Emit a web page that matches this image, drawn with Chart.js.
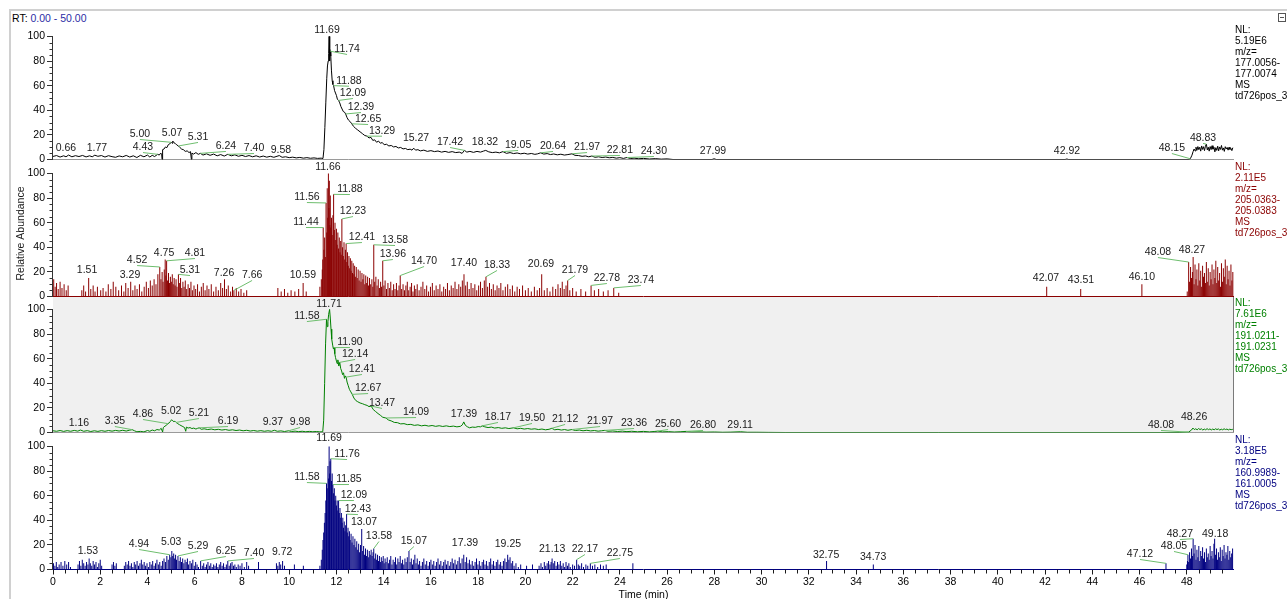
<!DOCTYPE html>
<html>
<head>
<meta charset="utf-8">
<title>Extracted ion chromatograms</title>
<script src="https://cdn.jsdelivr.net/npm/chart.js@4.4.1/dist/chart.umd.min.js"></script>
<style>
  html, body { margin: 0; padding: 0; background: #fff; }
  #wrap { position: relative; width: 1287px; height: 599px; overflow: hidden;
          font-family: "Liberation Sans", Arial, sans-serif; background: #fff; }
  #wrap canvas { position: absolute; left: 0; top: 0; }
  #frameTop { position: absolute; left: 9px; top: 9px; width: 1278px; height: 2px; background: #d0d0d0; }
  #frameLeft { position: absolute; left: 9px; top: 9px; width: 2px; height: 590px; background: #d0d0d0; }
  #rt { position: absolute; left: 12px; top: 12px; font-size: 10.5px; line-height: 12px; color: #000; white-space: nowrap; }
  #rt span { color: #2b2ba5; }
  #icon { position: absolute; left: 1278px; top: 13px; width: 6px; height: 7px; border: 1px solid #555; }
  #icon::after { content: ""; position: absolute; left: 1px; top: 3px; width: 4px; height: 1px; background: #555; }
</style>
</head>
<body>
<div id="wrap">
  <div id="frameTop"></div>
  <div id="frameLeft"></div>
  <div id="rt">RT: <span>0.00 - 50.00</span></div>
  <div id="icon"></div>
  <canvas id="c1" width="1287" height="610"></canvas>
  <canvas id="c2" width="1287" height="610"></canvas>
  <canvas id="c3" width="1287" height="610"></canvas>
  <canvas id="c4" width="1287" height="610"></canvas>
</div>
<script>
// ---- axis ranges and tick labels ----
const timeRange = [0, 50];
const yTicks = [0, 20, 40, 60, 80, 100];
const xTicks = [0, 2, 4, 6, 8, 10, 12, 14, 16, 18, 20, 22, 24, 26, 28, 30, 32, 34, 36, 38, 40, 42, 44, 46, 48];

// ---- m/z 177.0056-177.0074 : [time (min), relative abundance] ----
const trace177 = [
 [0.00,2.5],[0.15,3.2],[0.30,2.0],[0.45,3.0],[0.55,2.2],[0.66,3.6],[0.80,2.2],[0.95,3.1],[1.10,2.4],[1.25,3.3],
 [1.40,2.1],[1.55,3.0],[1.66,2.2],[1.77,3.5],[1.90,2.6],[2.05,3.2],[2.20,2.0],[2.35,3.1],[2.50,2.3],[2.65,1.8],
 [2.80,2.9],[2.95,2.2],[3.10,3.3],[3.25,2.0],[3.40,3.0],[3.55,1.6],[3.70,3.4],[3.85,2.2],[4.00,3.6],[4.10,2.0],
 [4.20,3.4],[4.30,2.4],[4.43,4.2],[4.50,3.6],[4.56,5.2],[4.60,4.4],[4.62,0],[4.64,8.0],[4.70,8.5],[4.76,10.2],
 [4.82,9.6],[4.88,12.0],[4.94,12.6],[5.00,14.0],[5.04,13.2],[5.07,15.0],[5.12,13.6],[5.18,13.0],[5.24,11.8],[5.31,11.0],
 [5.38,9.6],[5.45,8.4],[5.52,8.0],[5.60,6.6],[5.68,7.0],[5.76,5.6],[5.82,6.4],[5.86,0],[5.88,5.2],[5.95,4.4],
 [6.05,5.6],[6.15,4.2],[6.24,5.0],[6.35,3.6],[6.50,4.6],[6.65,3.4],[6.80,4.4],[6.95,3.0],[7.10,4.0],[7.25,2.8],
 [7.40,4.2],[7.55,3.0],[7.70,3.8],[7.85,2.6],[8.00,3.4],[8.15,2.4],[8.30,3.2],[8.45,2.2],[8.60,3.0],[8.75,2.0],
 [8.90,2.8],[9.05,1.9],[9.20,2.6],[9.35,1.8],[9.58,3.2],[9.70,1.8],[9.85,2.2],[10.00,1.5],[10.15,1.9],[10.30,1.3],
 [10.45,1.7],[10.60,1.1],[10.75,1.5],[10.90,1.0],[11.05,1.3],[11.20,0.9],[11.35,1.1],[11.43,0.8],
 [11.47,8],[11.51,26],[11.55,46],[11.59,66],[11.62,76],[11.65,80],[11.67,86],[11.69,100],[11.71,80],[11.72,90],
 [11.74,88],[11.76,84],[11.79,72],[11.82,64],[11.85,61],[11.88,60],[11.92,56],[11.96,54],[12.00,52],[12.04,49],
 [12.09,48],[12.14,46],[12.19,43],[12.24,41],[12.29,39],[12.34,38.5],[12.39,37],[12.45,34],[12.51,32],[12.57,31],
 [12.65,29],[12.72,27],[12.80,25.5],[12.90,24],[13.00,22.5],[13.10,21],[13.20,19.5],[13.29,19],[13.38,17.5],[13.46,18],
 [13.54,15.5],[13.62,16],[13.70,14],[13.78,15],[13.86,13.2],[13.94,13.8],[14.02,12],[14.12,12.4],[14.22,11],[14.32,11.4],
 [14.42,10.2],[14.52,10.6],[14.62,9.4],[14.72,9.8],[14.82,8.6],[14.92,9.0],[15.02,8.0],[15.12,8.4],[15.20,7.6],[15.27,9.2],
 [15.35,7.6],[15.45,8.0],[15.55,7.0],[15.70,7.6],[15.85,6.6],[16.00,7.2],[16.15,6.4],[16.30,6.9],[16.45,6.0],[16.60,6.6],
 [16.75,5.8],[16.90,6.4],[17.05,5.6],[17.20,6.0],[17.32,5.0],[17.42,7.4],[17.52,6.0],[17.65,6.6],[17.80,5.8],[17.95,6.6],
 [18.10,6.0],[18.22,6.8],[18.32,7.4],[18.45,6.2],[18.60,5.6],[18.75,6.0],[18.90,5.4],[19.05,6.4],[19.20,5.0],[19.35,5.6],
 [19.50,4.8],[19.65,5.3],[19.80,4.6],[19.95,5.1],[20.10,4.4],[20.25,4.9],[20.40,4.2],[20.52,4.6],[20.64,5.4],[20.78,4.4],
 [20.92,4.8],[21.06,4.0],[21.20,4.5],[21.35,3.8],[21.50,4.3],[21.65,3.6],[21.80,4.0],[21.97,4.6],[22.10,3.4],[22.25,3.2],
 [22.40,2.6],[22.55,2.9],[22.68,2.2],[22.81,2.8],[22.95,1.8],[23.10,2.2],[23.25,1.6],[23.40,2.0],[23.55,1.4],[23.70,1.7],
 [23.85,1.1],[24.00,1.5],[24.15,0.9],[24.30,1.6],[24.45,0.8],[24.60,1.1],[24.80,0.6],[25.00,0.9],[25.25,0.4],[25.50,0.7],
 [25.75,0.3],[26.00,0.5],[26.25,0],[27.90,0],[27.99,0.6],[28.08,0],[42.85,0],[42.92,0.4],[43.00,0],[48.08,0],
 [48.15,0.6],[48.22,3.5],[48.27,6.5],[48.31,8.5],[48.35,7],[48.39,10],[48.43,7.5],[48.47,10.5],[48.51,8],[48.55,10],
 [48.59,6.8],[48.63,11],[48.67,8.2],[48.71,10.4],[48.75,7.2],[48.79,10.8],[48.83,12.5],[48.87,7.8],[48.91,10],[48.95,6.8],
 [48.99,10.5],[49.03,8],[49.07,11.2],[49.11,8.4],[49.15,10],[49.19,6.2],[49.23,9.6],[49.27,7.4],[49.31,10.8],[49.35,7],
 [49.39,10.2],[49.43,8.2],[49.47,11.4],[49.51,7.6],[49.55,9.4],[49.59,6.6],[49.63,10.4],[49.67,8.6],[49.71,9.8],[49.75,7.6],
 [49.79,10],[49.83,8.2],[49.87,9],[49.91,7.2],[49.95,9.6]
];

// ---- m/z 205.0363-205.0383 : scan sticks [time, relative abundance] ----
const sticks205 = [
 [0.03,14],[0.09,8],[0.15,11],[0.22,6],[0.30,12],[0.38,7],[0.47,10],[0.56,5],[0.64,9],[1.22,5],
 [1.30,9],[1.38,4],[1.51,15],[1.60,6],[1.70,9],[1.78,4],[1.88,8],[2.02,5],[2.12,7],[2.24,4],
 [2.34,10],[2.45,6],[2.55,12],[2.66,8],[2.78,5],[2.90,9],[3.00,4],[3.08,11],[3.18,7],[3.29,12],
 [3.38,5],[3.47,9],[3.56,6],[3.66,10],[3.76,4],[3.86,8],[3.95,12],[4.04,7],[4.12,13],[4.20,9],
 [4.28,14],[4.36,10],[4.44,18],[4.52,24],[4.57,14],[4.62,20],[4.66,12],[4.71,22],[4.75,30],[4.78,17],
 [4.81,29],[4.85,13],[4.89,19],[4.93,11],[4.97,16],[5.01,12],[5.05,18],[5.09,10],[5.13,15],[5.17,9],
 [5.21,14],[5.25,8],[5.31,18],[5.35,11],[5.40,15],[5.45,7],[5.50,12],[5.55,8],[5.60,13],[5.66,6],
 [5.72,10],[5.78,7],[5.84,12],[5.90,5],[5.97,9],[6.04,6],[6.12,10],[6.20,4],[6.28,8],[6.36,11],
 [6.44,5],[6.52,9],[6.60,6],[6.70,10],[6.80,4],[6.90,8],[7.00,5],[7.10,11],[7.18,7],[7.26,14],
 [7.34,6],[7.42,9],[7.52,4],[7.60,8],[7.66,5],[7.76,7],[7.86,4],[7.96,6],[8.08,3],[8.20,5],
 [9.52,7],[9.66,4],[9.80,6],[9.94,3],[10.08,5],[10.24,4],[10.40,6],[10.59,11],[10.72,4],[11.30,8],
 [11.36,14],[11.40,22],[11.42,30],[11.44,56],[11.47,38],[11.50,48],[11.53,32],[11.56,76],[11.59,52],[11.61,88],
 [11.63,64],[11.66,100],[11.68,72],[11.70,94],[11.72,58],[11.74,82],[11.76,56],[11.79,64],[11.82,50],[11.85,66],
 [11.88,83],[11.91,54],[11.94,60],[11.97,46],[12.00,55],[12.03,42],[12.06,52],[12.09,39],[12.12,48],[12.15,36],
 [12.18,45],[12.20,34],[12.23,63],[12.26,40],[12.29,33],[12.32,44],[12.35,30],[12.38,38],[12.41,43],[12.44,28],
 [12.47,36],[12.50,25],[12.53,33],[12.56,23],[12.59,31],[12.62,21],[12.65,29],[12.68,19],[12.71,27],[12.74,18],
 [12.77,25],[12.80,16],[12.84,24],[12.88,15],[12.92,22],[12.96,13],[13.00,21],[13.04,12],[13.08,19],[13.12,14],
 [13.16,18],[13.20,10],[13.24,17],[13.28,11],[13.32,16],[13.36,9],[13.40,15],[13.45,10],[13.50,14],[13.54,8],
 [13.58,42],[13.62,12],[13.67,16],[13.72,9],[13.77,14],[13.82,7],[13.87,12],[13.91,8],[13.96,29],[14.01,9],
 [14.06,13],[14.12,6],[14.18,11],[14.24,7],[14.30,12],[14.36,5],[14.42,10],[14.48,6],[14.54,11],[14.60,5],
 [14.65,9],[14.70,17],[14.76,6],[14.82,10],[14.88,5],[14.94,9],[15.00,12],[15.06,5],[15.12,8],[15.18,11],
 [15.24,4],[15.30,9],[15.36,6],[15.42,10],[15.50,5],[15.58,8],[15.66,12],[15.74,6],[15.82,9],[15.90,4],
 [15.98,8],[16.06,11],[16.14,5],[16.22,9],[16.30,6],[16.38,10],[16.46,4],[16.54,8],[16.62,6],[16.70,11],
 [16.78,5],[16.86,9],[16.94,7],[17.02,12],[17.10,6],[17.18,10],[17.26,8],[17.33,13],[17.40,18],[17.47,9],
 [17.54,12],[17.62,6],[17.70,11],[17.78,7],[17.86,10],[17.94,5],[18.02,9],[18.10,12],[18.18,7],[18.26,13],
 [18.33,16],[18.40,8],[18.48,11],[18.56,6],[18.64,10],[18.72,5],[18.80,9],[18.88,7],[18.96,11],[19.05,5],
 [19.15,8],[19.25,10],[19.35,6],[19.45,9],[19.55,4],[19.65,8],[19.75,6],[19.88,9],[20.00,5],[20.12,7],
 [20.25,4],[20.38,8],[20.50,5],[20.60,7],[20.69,18],[20.80,5],[20.92,7],[21.04,4],[21.16,8],[21.28,6],
 [21.38,10],[21.48,7],[21.56,12],[21.64,6],[21.72,9],[21.79,13],[21.88,5],[22.00,7],[22.15,4],[22.35,6],
 [22.55,4],[22.78,9],[22.92,5],[23.10,6],[23.30,4],[23.50,5],[23.74,7],[23.95,3],[42.07,8],[43.51,6],
 [46.10,10],[48.02,4],[48.08,28],[48.12,12],[48.16,24],[48.20,15],[48.24,20],[48.27,32],[48.31,10],[48.35,26],
 [48.39,14],[48.43,22],[48.47,9],[48.51,27],[48.55,13],[48.59,21],[48.63,8],[48.67,25],[48.71,16],[48.75,19],
 [48.79,11],[48.83,28],[48.87,12],[48.91,23],[48.95,9],[48.99,20],[49.03,14],[49.07,26],[49.11,10],[49.15,22],
 [49.19,15],[49.23,29],[49.27,11],[49.31,24],[49.35,13],[49.39,19],[49.43,8],[49.47,27],[49.51,12],[49.55,23],
 [49.59,16],[49.63,30],[49.67,10],[49.71,25],[49.75,14],[49.79,21],[49.83,9],[49.87,26],[49.91,13],[49.95,20]
];

// ---- m/z 191.0211-191.0231 : [time, relative abundance] ----
const trace191 = [
 [0.00,1.4],[0.15,1.0],[0.30,1.6],[0.45,0.9],[0.60,1.5],[0.75,1.0],[0.90,1.7],[1.05,1.1],[1.16,2.0],[1.30,1.0],
 [1.45,1.5],[1.60,0.8],[1.75,1.4],[1.90,0.9],[2.05,1.5],[2.20,1.0],[2.35,1.6],[2.50,1.1],[2.65,1.7],[2.80,1.2],
 [2.95,1.8],[3.10,1.2],[3.25,1.9],[3.35,2.3],[3.45,1.4],[3.55,0.6],[3.70,0.9],[3.85,0.5],[4.00,1.6],[4.10,1.0],
 [4.20,2.0],[4.30,1.4],[4.40,2.4],[4.50,2.0],[4.58,3.4],[4.64,0.4],[4.67,4.0],[4.74,5.2],[4.80,5.8],[4.86,7.2],
 [4.92,7.8],[4.97,9.0],[5.02,10.4],[5.07,9.4],[5.12,8.8],[5.16,9.2],[5.21,8.2],[5.28,7.2],[5.35,6.4],[5.42,5.6],
 [5.50,4.8],[5.57,4.0],[5.62,1.0],[5.65,4.4],[5.72,3.6],[5.80,4.0],[5.88,3.2],[5.96,3.6],[6.05,2.8],[6.12,3.4],
 [6.19,3.8],[6.28,2.6],[6.40,3.0],[6.55,2.4],[6.70,2.8],[6.85,2.2],[7.00,2.6],[7.15,2.0],[7.30,2.4],[7.45,1.8],
 [7.60,2.2],[7.75,1.6],[7.90,2.0],[8.05,1.4],[8.20,1.8],[8.35,1.2],[8.50,1.6],[8.65,1.1],[8.80,1.5],[8.95,1.0],
 [9.10,1.4],[9.25,1.0],[9.37,1.8],[9.50,1.0],[9.65,1.3],[9.80,0.8],[9.98,1.4],[10.10,0.8],[10.25,1.1],[10.40,0.7],
 [10.55,1.0],[10.70,0.6],[10.85,0.9],[11.00,0.6],[11.15,0.8],[11.30,0.5],[11.42,0.6],
 [11.46,10],[11.50,40],[11.54,72],[11.58,92],[11.61,86],[11.64,90],[11.67,96],[11.71,100],[11.74,93],[11.77,84],
 [11.80,76],[11.84,71],[11.87,68],[11.90,69],[11.93,64],[11.96,61],[12.00,58],[12.03,56],[12.06,59],[12.10,54],
 [12.14,57],[12.18,52],[12.22,50],[12.26,47],[12.30,48.5],[12.34,44],[12.37,46],[12.41,45],[12.45,41],[12.50,38],
 [12.55,35],[12.61,33],[12.67,31],[12.74,28],[12.82,26],[12.90,25],[13.00,24],[13.10,23.4],[13.20,22.6],[13.30,22],
 [13.38,21],[13.47,21.5],[13.56,18.6],[13.66,17],[13.76,15.4],[13.86,14],[13.96,12.4],[14.09,11.8],[14.20,10.2],[14.32,9.4],
 [14.45,8.2],[14.58,8.0],[14.72,7.0],[14.86,7.2],[15.00,6.4],[15.15,6.6],[15.30,5.8],[15.45,6.2],[15.60,5.4],[15.75,5.9],
 [15.90,5.2],[16.05,5.7],[16.20,5.0],[16.35,5.5],[16.50,4.9],[16.65,5.4],[16.80,4.8],[16.95,5.2],[17.10,4.6],[17.25,5.0],
 [17.33,6.2],[17.39,8.6],[17.46,5.8],[17.55,4.6],[17.64,3.8],[17.75,4.4],[17.88,4.2],[18.00,4.8],[18.10,4.6],[18.17,5.4],
 [18.28,4.6],[18.42,4.0],[18.56,4.4],[18.70,3.6],[18.85,4.0],[19.00,3.4],[19.15,3.8],[19.30,3.2],[19.50,3.8],[19.65,3.0],
 [19.80,3.4],[19.95,2.8],[20.10,3.2],[20.25,2.7],[20.40,3.0],[20.55,2.4],[20.70,2.8],[20.85,2.2],[21.00,2.6],[21.12,3.4],
 [21.24,2.2],[21.38,2.6],[21.52,2.0],[21.66,2.4],[21.80,1.8],[21.97,2.4],[22.12,1.6],[22.28,2.0],[22.44,1.4],[22.60,1.8],
 [22.76,1.3],[22.92,1.6],[23.08,1.1],[23.22,1.4],[23.36,1.7],[23.50,1.0],[23.70,1.2],[23.90,0.8],[24.10,1.1],[24.30,0.7],
 [24.50,1.0],[24.75,0.6],[25.00,0.9],[25.25,0.5],[25.45,0.8],[25.60,1.1],[25.80,0.5],[26.05,0.7],[26.30,0.4],[26.55,0.6],
 [26.80,0.9],[27.05,0.4],[27.35,0.5],[27.65,0.3],[28.00,0.4],[28.35,0.2],[28.70,0.3],[29.11,0.6],[29.40,0.2],[29.80,0.2],
 [30.30,0.1],[31.00,0],[47.70,0],[48.08,0.3],[48.14,1.2],[48.20,2.0],[48.26,3.6],[48.32,2.4],[48.38,3.0],[48.44,2.2],
 [48.50,3.2],[48.56,2.4],[48.62,3.0],[48.68,2.0],[48.74,2.8],[48.80,2.2],[48.86,3.1],[48.92,2.3],[48.98,2.9],[49.04,2.1],
 [49.10,2.8],[49.16,2.2],[49.22,3.0],[49.28,2.4],[49.34,2.9],[49.40,2.0],[49.46,2.7],[49.52,2.2],[49.58,3.0],[49.64,2.4],
 [49.70,2.8],[49.76,2.1],[49.82,2.7],[49.88,2.3],[49.95,2.6]
];

// ---- m/z 160.9989-161.0005 : scan sticks [time, relative abundance] ----
const sticks161 = [
 [0.02,5],[0.08,3],[0.14,6],[0.20,2],[0.26,4],[0.34,6],[0.42,3],[0.50,7],[0.58,4],[0.66,6],
 [0.74,2],[1.06,4],[1.12,7],[1.18,3],[1.24,8],[1.30,5],[1.36,3],[1.42,6],[1.48,4],[1.53,9],
 [1.58,5],[1.64,3],[1.70,7],[1.76,4],[1.82,6],[1.88,2],[1.94,5],[2.00,8],[2.06,3],[2.50,4],
 [2.56,6],[2.62,3],[2.68,5],[3.02,3],[3.08,6],[3.14,4],[3.20,7],[3.26,3],[3.32,5],[3.38,2],
 [3.44,6],[3.50,4],[3.56,7],[3.62,3],[3.68,5],[3.74,8],[3.80,4],[3.86,6],[3.92,3],[3.98,5],
 [4.04,2],[4.10,6],[4.16,4],[4.22,7],[4.28,3],[4.34,5],[4.40,8],[4.46,4],[4.52,6],[4.58,3],
 [4.64,7],[4.70,9],[4.76,6],[4.82,11],[4.88,8],[4.94,12],[4.99,10],[5.03,15],[5.07,11],[5.11,13],
 [5.15,9],[5.19,12],[5.23,8],[5.29,11],[5.34,7],[5.39,10],[5.44,6],[5.49,9],[5.54,5],[5.59,8],
 [5.64,6],[5.69,9],[5.74,4],[5.80,7],[5.86,5],[5.92,8],[5.98,3],[6.04,6],[6.10,4],[6.16,2],
 [6.25,7],[6.32,3],[6.38,5],[6.44,2],[6.50,4],[6.56,6],[6.62,3],[6.68,5],[6.74,2],[6.80,4],
 [6.86,3],[6.92,5],[6.98,2],[7.04,4],[7.10,6],[7.16,3],[7.22,5],[7.28,2],[7.34,4],[7.40,7],
 [7.46,3],[7.52,5],[7.58,6],[7.64,3],[7.70,4],[7.76,2],[7.84,4],[7.92,3],[8.00,5],[8.10,2],
 [8.20,6],[8.28,3],[8.70,6],[9.46,5],[9.52,3],[9.58,6],[9.64,4],[9.72,7],[9.80,3],[10.22,4],
 [10.60,3],[11.30,3],[11.36,8],[11.40,16],[11.43,24],[11.46,30],[11.49,38],[11.52,46],[11.55,56],[11.58,70],
 [11.61,66],[11.64,84],[11.67,74],[11.69,100],[11.71,78],[11.73,88],[11.76,90],[11.79,72],[11.82,78],[11.85,69],
 [11.88,62],[11.91,66],[11.94,56],[11.97,60],[12.00,52],[12.03,56],[12.06,48],[12.09,56],[12.12,46],[12.15,50],
 [12.18,42],[12.21,46],[12.24,38],[12.27,42],[12.30,34],[12.33,39],[12.36,31],[12.39,36],[12.43,45],[12.46,30],
 [12.49,34],[12.52,27],[12.55,31],[12.58,24],[12.62,29],[12.66,22],[12.70,27],[12.74,20],[12.78,25],[12.82,18],
 [12.86,23],[12.90,16],[12.94,21],[12.98,14],[13.02,20],[13.07,33],[13.11,15],[13.15,19],[13.19,12],[13.23,17],
 [13.27,11],[13.31,16],[13.35,10],[13.39,15],[13.43,12],[13.47,16],[13.51,11],[13.55,14],[13.58,17],[13.62,9],
 [13.66,13],[13.70,8],[13.74,12],[13.78,7],[13.82,11],[13.86,6],[13.90,10],[13.94,7],[13.98,11],[14.02,5],
 [14.06,9],[14.10,6],[14.15,10],[14.20,5],[14.25,8],[14.30,11],[14.35,4],[14.40,8],[14.45,6],[14.50,10],
 [14.55,4],[14.60,9],[14.65,6],[14.70,11],[14.75,5],[14.80,8],[14.85,4],[14.90,9],[14.95,6],[15.00,10],
 [15.07,15],[15.12,6],[15.17,9],[15.22,4],[15.27,8],[15.32,12],[15.37,5],[15.42,9],[15.47,4],[15.52,7],
 [15.58,3],[15.64,6],[15.70,9],[15.76,4],[15.82,7],[15.88,3],[15.94,6],[16.00,8],[16.06,4],[16.12,7],
 [16.18,3],[16.24,6],[16.30,9],[16.36,4],[16.42,7],[16.48,3],[16.54,6],[16.60,8],[16.66,4],[16.72,7],
 [16.78,3],[16.84,6],[16.90,9],[16.96,5],[17.02,8],[17.08,4],[17.14,7],[17.20,10],[17.26,5],[17.32,9],
 [17.39,12],[17.45,6],[17.51,10],[17.57,5],[17.63,8],[17.69,4],[17.75,7],[17.81,3],[17.87,6],[17.93,9],
 [17.99,4],[18.05,7],[18.11,3],[18.17,6],[18.23,8],[18.29,4],[18.35,7],[18.41,3],[18.47,6],[18.53,9],
 [18.59,4],[18.65,7],[18.71,3],[18.77,6],[18.83,8],[18.89,4],[18.95,6],[19.01,3],[19.07,7],[19.13,9],
 [19.19,6],[19.25,12],[19.30,8],[19.35,10],[19.40,5],[19.46,7],[19.52,3],[19.60,5],[19.70,2],[19.80,4],
 [20.05,3],[20.30,4],[20.58,3],[20.66,5],[20.72,2],[20.80,6],[20.86,3],[20.92,5],[20.98,7],[21.04,4],
 [21.09,6],[21.13,9],[21.18,5],[21.24,7],[21.30,3],[21.36,6],[21.42,4],[21.48,7],[21.54,3],[21.60,5],
 [21.66,2],[21.72,6],[21.78,3],[21.84,5],[21.90,2],[22.00,4],[22.08,3],[22.17,8],[22.24,4],[22.30,3],
 [22.38,5],[22.46,2],[22.56,4],[22.64,3],[22.75,5],[22.84,3],[22.94,4],[23.06,2],[23.18,4],[23.30,3],
 [23.42,4],[24.55,5],[32.75,7],[34.73,4],[47.12,5],[48.00,4],[48.03,7],[48.05,12],[48.08,6],[48.12,14],
 [48.16,9],[48.20,17],[48.24,11],[48.27,25],[48.31,13],[48.35,20],[48.39,8],[48.43,16],[48.47,10],[48.51,19],
 [48.55,7],[48.59,15],[48.63,11],[48.67,18],[48.71,9],[48.75,14],[48.79,6],[48.83,17],[48.87,10],[48.91,13],
 [48.95,8],[48.99,19],[49.03,11],[49.07,15],[49.11,9],[49.15,21],[49.18,25],[49.22,12],[49.26,17],[49.30,8],
 [49.34,14],[49.38,10],[49.42,18],[49.46,7],[49.50,16],[49.54,11],[49.58,20],[49.62,9],[49.66,14],[49.70,12],
 [49.74,19],[49.78,8],[49.82,15],[49.86,10],[49.90,13],[49.94,17]
];

// ---- labelled retention times per trace ----
const peaks177 = [0.66,1.77,4.43,5.00,5.07,5.31,6.24,7.40,9.58,11.69,11.74,11.88,12.09,12.39,12.65,13.29,15.27,17.42,18.32,19.05,20.64,21.97,22.81,24.30,27.99,42.92,48.15,48.83];
const peaks205 = [1.51,3.29,4.52,4.75,4.81,5.31,7.26,7.66,10.59,11.44,11.56,11.66,11.88,12.23,12.41,13.58,13.96,14.70,17.40,18.33,20.69,21.79,22.78,23.74,42.07,43.51,46.10,48.08,48.27];
const peaks191 = [1.16,3.35,4.86,5.02,5.21,6.19,9.37,9.98,11.58,11.71,11.90,12.14,12.41,12.67,13.47,14.09,17.39,18.17,19.50,21.12,21.97,23.36,25.60,26.80,29.11,48.08,48.26];
const peaks161 = [1.53,4.94,5.03,5.29,6.25,7.40,9.72,11.58,11.69,11.76,11.85,12.09,12.43,13.07,13.58,15.07,17.39,19.25,21.13,22.17,22.75,32.75,34.73,47.12,48.05,48.27,49.18];

// ---- trace descriptions shown beside each plot ----
const info177 = ['NL:', '5.19E6', 'm/z=', '177.0056-', '177.0074', 'MS', 'td726pos_3'];
const info205 = ['NL:', '2.11E5', 'm/z=', '205.0363-', '205.0383', 'MS', 'td726pos_3'];
const info191 = ['NL:', '7.61E6', 'm/z=', '191.0211-', '191.0231', 'MS', 'td726pos_3'];
const info161 = ['NL:', '3.18E5', 'm/z=', '160.9989-', '161.0005', 'MS', 'td726pos_3'];

// ---- where each peak label sits, in (time, abundance) units ----
const labelAt177 = [[0.55,8.9],[1.86,8.9],[3.81,9.7],[3.68,20.3],[5.04,21.1],[6.14,17.9],[7.32,10.6],[8.51,8.9],[9.65,7.3],[11.60,104.8],[12.45,89.4],[12.53,63.6],[12.70,53.6],[13.04,42.2],[13.34,32.5],[13.93,23.0],[15.37,17.1],[16.81,13.8],[18.29,13.8],[19.69,11.4],[21.17,10.6],[22.61,9.7],[24.0,7.3],[25.44,6.5],[27.94,6.5],[42.93,6.5],[47.37,8.9],[48.69,17.1]];
const labelAt205 = [[1.44,21.1],[3.26,17.1],[3.56,29.2],[4.70,34.9],[6.01,34.9],[5.80,21.1],[7.24,18.7],[8.43,17.1],[10.58,17.1],[10.71,60.1],[10.75,80.4],[11.64,104.8],[12.57,86.9],[12.70,69.0],[13.08,47.9],[14.48,45.5],[14.39,34.1],[15.71,28.4],[17.40,26.8],[18.80,25.2],[20.66,26.0],[22.10,21.1],[23.45,14.6],[24.89,13.0],[42.04,14.6],[43.52,13.0],[46.10,15.4],[46.78,35.7],[48.22,37.4]];
const labelAt191 = [[1.10,7.3],[2.62,8.9],[3.81,14.6],[5.00,17.1],[6.18,15.4],[7.41,8.9],[9.31,8.1],[10.46,8.1],[10.75,94.2],[11.69,104],[12.57,73.1],[12.79,63.4],[13.08,51.2],[13.34,35.7],[13.93,23.6],[15.37,16.2],[17.40,14.6],[18.84,12.2],[20.28,11.4],[21.68,10.6],[23.16,8.9],[24.60,7.3],[26.04,6.5],[27.52,5.7],[29.09,5.7],[46.91,5.7],[48.31,12.2]];
const labelAt161 = [[1.48,14.6],[3.64,20.3],[5.00,21.9],[6.14,18.7],[7.32,14.6],[8.51,13.0],[9.70,13.8],[10.75,74.7],[11.69,106.4],[12.45,93.4],[12.53,73.1],[12.74,60.1],[12.91,48.7],[13.17,38.2],[13.80,26.8],[15.28,22.7],[17.44,21.1],[19.26,20.3],[21.13,16.2],[22.52,16.2],[24.0,13.0],[32.73,11.4],[34.72,9.7],[46.02,12.2],[47.46,18.7],[47.71,28.4],[49.2,28.4]];

// ---- page layout ----
const FONT = '"Liberation Sans", Arial, sans-serif';
const CANVAS_W = 1287, CANVAS_H = 610;
const PLOT_LEFT = 53, PLOT_RIGHT = 1234;
const PANEL_H = 136, Y_MAX = 110.5, XAXIS_H = 36;

const panels = [
  { id: 'c1', base: 159.5, kind: 'line', data: trace177, color: '#000000', baseColor: '#9a9a9a',
    peaks: peaks177, labelAt: labelAt177, info: info177, infoColor: '#000000' },
  { id: 'c2', base: 296.5, kind: 'bar', data: sticks205, color: '#8b0000', baseColor: '#8b0000',
    peaks: peaks205, labelAt: labelAt205, info: info205, infoColor: '#8b0000', yTitle: 'Relative Abundance' },
  { id: 'c3', base: 432.5, kind: 'line', data: trace191, color: '#008000', baseColor: '#9a9a9a',
    peaks: peaks191, labelAt: labelAt191, info: info191, infoColor: '#008000', shaded: true },
  { id: 'c4', base: 569.5, kind: 'bar', data: sticks161, color: '#000080', baseColor: '#000080',
    peaks: peaks161, labelAt: labelAt161, info: info161, infoColor: '#000080', timeAxis: true }
];

// frame, minor ticks, peak annotations and trace notes for one plot
function decorations(p) {
  return {
    id: 'decorations',
    beforeDatasetsDraw(chart) {
      const { ctx, chartArea: a, scales: { x, y } } = chart;
      const y0 = y.getPixelForValue(0);
      const x0 = x.getPixelForValue(timeRange[0]);
      const x1 = x.getPixelForValue(timeRange[1]);
      ctx.save();
      ctx.lineWidth = 1;
      if (p.shaded) {
        ctx.fillStyle = '#f0f0f0';
        ctx.fillRect(x0, a.top + 0.5, x1 - x0, y0 - a.top - 0.5);
        ctx.strokeStyle = '#7a7a7a';
        ctx.beginPath();
        ctx.moveTo(Math.round(x1) - 0.5, a.top + 0.5);
        ctx.lineTo(Math.round(x1) - 0.5, y0);
        ctx.stroke();
      }
      ctx.strokeStyle = p.baseColor;
      ctx.beginPath();
      ctx.moveTo(x0, y0);
      ctx.lineTo(x1, y0);
      ctx.stroke();

      const xa = Math.round(x0) - 0.5;
      ctx.strokeStyle = '#333';
      ctx.beginPath();
      ctx.moveTo(xa, Math.round(y.getPixelForValue(100)));
      ctx.lineTo(xa, y0 + 0.5);
      for (let v = 5; v < 100; v += 5) {
        if (v % 20 === 0) continue;
        const yy = Math.round(y.getPixelForValue(v)) + 0.5;
        ctx.moveTo(xa - 3, yy);
        ctx.lineTo(xa, yy);
      }
      ctx.stroke();

      if (p.timeAxis) {
        ctx.strokeStyle = '#1a1a1a';
        ctx.beginPath();
        for (let t = 0.5; t < timeRange[1]; t += 0.5) {
          if (t % 2 === 0) continue;
          const xx = Math.round(x.getPixelForValue(t)) + 0.5;
          ctx.moveTo(xx, y0);
          ctx.lineTo(xx, y0 + 4);
        }
        ctx.stroke();
      }
      ctx.restore();
    },
    afterDatasetsDraw(chart) {
      const { ctx, scales: { x, y } } = chart;
      ctx.save();
      ctx.font = '10.5px ' + FONT;
      ctx.textAlign = 'center';
      ctx.textBaseline = 'middle';
      p.peaks.forEach((rt, i) => {
        const hit = p.data.find(d => Math.abs(d[0] - rt) < 1e-6);
        const px = x.getPixelForValue(rt);
        const py = y.getPixelForValue(hit ? hit[1] : 0);
        const lx = x.getPixelForValue(p.labelAt[i][0]);
        const ly = y.getPixelForValue(p.labelAt[i][1]);
        if (Math.abs(lx - px) >= 3) {
          ctx.strokeStyle = 'rgb(110,190,110)';
          ctx.lineWidth = 1;
          ctx.beginPath();
          ctx.moveTo(px, py);
          ctx.lineTo(lx, ly + 5);
          ctx.stroke();
        }
        ctx.fillStyle = '#1a1a1a';
        ctx.fillText(rt.toFixed(2), lx, ly);
      });
      ctx.restore();
    },
    afterDraw(chart) {
      const { ctx, chartArea: a } = chart;
      ctx.save();
      ctx.font = '10px ' + FONT;
      ctx.fillStyle = p.infoColor;
      ctx.textAlign = 'left';
      ctx.textBaseline = 'middle';
      p.info.forEach((s, i) => ctx.fillText(s, a.right + 1, a.top + 6.5 + i * 11.1));
      if (p.yTitle) {
        ctx.translate(21, (a.top + a.bottom) / 2 + 5);
        ctx.rotate(-Math.PI / 2);
        ctx.font = '10.5px ' + FONT;
        ctx.fillStyle = '#1a1a1a';
        ctx.textAlign = 'center';
        ctx.fillText(p.yTitle, 0, 0);
      }
      ctx.restore();
    }
  };
}

function buildPanel(p) {
  const dataset = {
    type: p.kind,
    data: p.data.map(([t, v]) => ({ x: t, y: v })),
    borderColor: p.color,
    backgroundColor: p.color,
    borderWidth: p.kind === 'line' ? 1 : 0,
    pointRadius: 0,
    tension: 0,
    barThickness: 1,
    inflateAmount: 0
  };
  const tickFont = { family: FONT, size: 10.5 };
  return new Chart(document.getElementById(p.id), {
    type: p.kind,
    data: { datasets: [dataset] },
    options: {
      responsive: false,
      animation: false,
      devicePixelRatio: 1,
      parsing: false,
      events: [],
      layout: {
        padding: {
          left: 0,
          right: CANVAS_W - PLOT_RIGHT,
          top: p.base - PANEL_H,
          bottom: p.timeAxis ? CANVAS_H - p.base - XAXIS_H : CANVAS_H - p.base
        }
      },
      plugins: { legend: { display: false }, tooltip: { enabled: false } },
      scales: {
        x: {
          type: 'linear',
          min: timeRange[0],
          max: timeRange[1],
          offset: false,
          display: !!p.timeAxis,
          afterBuildTicks: s => { s.ticks = xTicks.map(v => ({ value: v })); },
          afterFit: s => { s.height = p.timeAxis ? XAXIS_H : 0; },
          grid: { drawOnChartArea: false, drawTicks: true, tickLength: 5, color: '#1a1a1a', offset: false },
          border: { display: false },
          ticks: { font: tickFont, color: '#000', padding: 1, maxRotation: 0, autoSkip: false },
          title: { display: true, text: 'Time (min)', font: tickFont, color: '#000', padding: { top: 0, bottom: 4 } }
        },
        y: {
          type: 'linear',
          min: 0,
          max: Y_MAX,
          afterBuildTicks: s => { s.ticks = yTicks.map(v => ({ value: v })); },
          afterFit: s => { s.width = PLOT_LEFT; },
          grid: { drawOnChartArea: false, drawTicks: true, tickLength: 6, color: '#333' },
          border: { display: false },
          ticks: { font: tickFont, color: '#000', padding: 2 }
        }
      }
    },
    plugins: [decorations(p)]
  });
}

panels.forEach(buildPanel);
</script>
</body>
</html>
